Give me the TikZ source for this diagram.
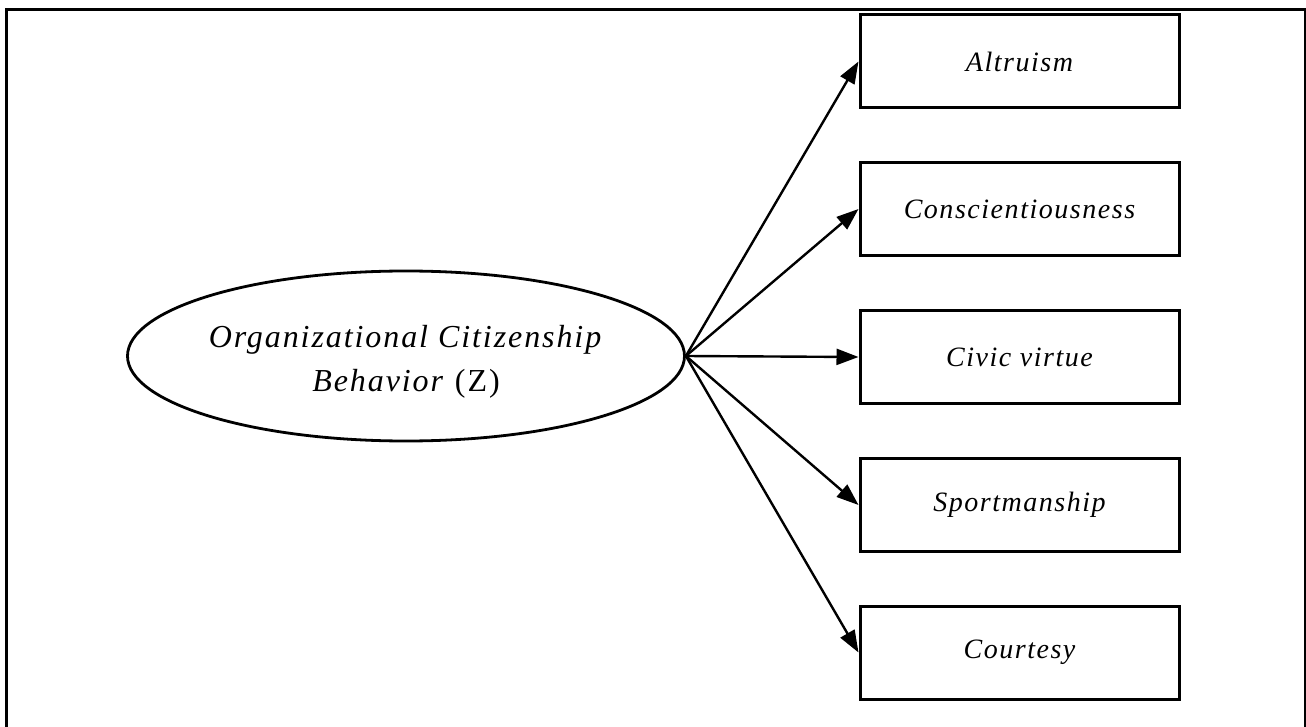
\documentclass[tikz,border=0pt]{standalone}
\usepackage{fontspec}
\setmainfont{Liberation Serif}
\newfontfamily\spacedserif[LetterSpace=6]{Liberation Serif}
\newfontfamily\boxserif[LetterSpace=5.5]{Liberation Serif}
\usetikzlibrary{shapes.geometric,arrows.meta}
\begin{document}
\begin{tikzpicture}[x=1pt,y=-1pt,
  box/.style={draw,line width=3pt,minimum width=319pt,minimum height=93pt,inner sep=0pt,
    font=\boxserif\fontsize{28}{32}\selectfont\itshape},
  conn/.style={line width=2.4pt,-{Triangle[length=22pt,width=16pt]}}]
\clip (0,0) rectangle (1306,727);
\draw[line width=3pt] (6,740) -- (6,10) -- (1305,10) -- (1305,740);
\node[draw,ellipse,line width=2.8pt,minimum width=557pt,minimum height=170pt,inner sep=0pt] (ocb) at (406,356) {};
\node[align=center,inner sep=0pt,font=\spacedserif\fontsize{32}{44}\selectfont] (ocbtext) at ([yshift=-6pt]ocb.center)
  {\textit{Organizational Citizenship}\\\textit{Behavior} (Z)};
\node[box] (alt) at (1019.5,61.5) {Altruism};
\node[box] (con) at (1019.5,209) {Conscientiousness};
\node[box] (civ) at (1019.5,357) {Civic virtue};
\node[box] (spo) at (1019.5,505) {Sportmanship};
\node[box] (cou) at (1019.5,652.5) {Courtesy};
\foreach \t in {alt,con,civ,spo,cou}
  \draw[conn] (ocb.east) -- (\t.west);
\end{tikzpicture}
\end{document}
